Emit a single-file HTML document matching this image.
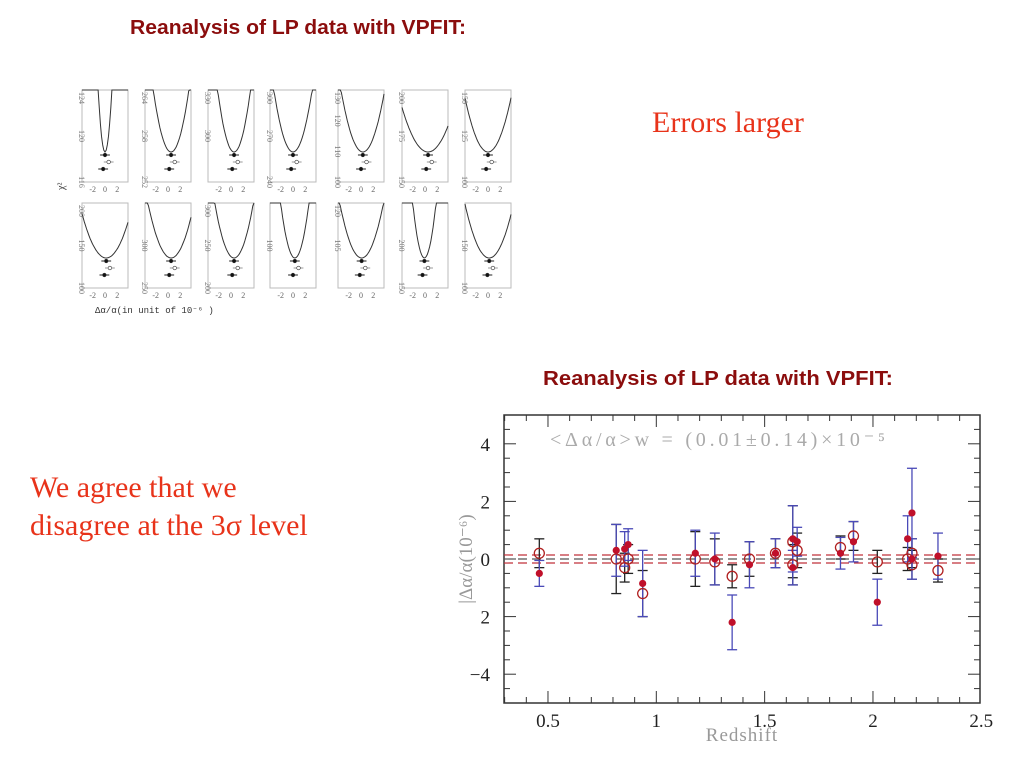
<!DOCTYPE html>
<html><head><meta charset="utf-8"><style>
html,body{margin:0;padding:0;background:#fff;width:1024px;height:768px;overflow:hidden}
svg{display:block}
</style></head><body>
<svg id="page" width="1024" height="768" viewBox="0 0 1024 768" xmlns="http://www.w3.org/2000/svg">
<text x="130" y="34" font-family="Liberation Sans, sans-serif" font-weight="bold" font-size="20" fill="#8b0d0d" textLength="336" lengthAdjust="spacingAndGlyphs">Reanalysis of LP data with VPFIT:</text>
<text x="543" y="385" font-family="Liberation Sans, sans-serif" font-weight="bold" font-size="20" fill="#8b0d0d" textLength="350" lengthAdjust="spacingAndGlyphs">Reanalysis of LP data with VPFIT:</text>
<text x="652" y="132" font-family="Liberation Serif, serif" font-size="30" fill="#e8331a">Errors larger</text>
<text x="30" y="497" font-family="Liberation Serif, serif" font-size="30" fill="#e8331a">We agree that we</text>
<text x="30" y="535" font-family="Liberation Serif, serif" font-size="30" fill="#e8331a">disagree at the 3σ level</text>
<g id="panels"></g>
<g id="chart"></g>
</svg>
<script>
// ---- main chart data ----
const filledZ   = [0.46,0.815,0.854,0.87,0.937,1.18,1.27,1.35,1.43,1.55,1.63,1.63,1.65,1.85,1.91,2.02,2.16,2.18,2.18,2.30];
const filledVal = [-0.5,0.3,0.35,0.5,-0.85,0.2,0.0,-2.2,-0.2,0.2,-0.3,0.7,0.6,0.2,0.6,-1.5,0.7,1.6,0.0,0.1];
const filledErr = [0.45,0.9,0.6,0.55,1.15,0.8,0.9,0.95,0.8,0.5,0.6,1.15,0.5,0.55,0.7,0.8,0.8,1.55,0.7,0.8];
const openZ   = [0.46,0.815,0.854,0.87,0.937,1.18,1.27,1.35,1.43,1.55,1.63,1.63,1.65,1.85,1.91,2.02,2.16,2.18,2.18,2.30];
const openVal = [0.2,0.0,-0.3,0.0,-1.2,0.0,-0.1,-0.6,0.0,0.2,0.6,-0.2,0.3,0.4,0.8,-0.1,0.0,0.2,-0.2,-0.4];
const openErr = [0.5,1.2,0.5,0.5,0.8,0.95,0.8,0.4,0.6,0.5,1.25,0.7,0.6,0.4,0.5,0.4,0.4,0.5,0.5,0.4];
const xTicks = [0.5,1,1.5,2,2.5];
const xTickLabels = ["0.5","1","1.5","2","2.5"];
const yTicks = [-4,-2,0,2,4];
const yTickLabels = ["\u22124","2","0","2","4"];
const meanLines = [0.14,0,-0.14];
// ---- chi2 panel data (curve minimum position, curvature) ----
const panelMin = [0,0.5,0.5,0,0.3,0.5,0,0.2,0.5,0.5,0.3,0.1,-0.1,0.2];
const panelWidth = [1.0,2.6,2.4,2.8,3.2,4.5,3.6,4.2,3.6,3.0,2.2,3.4,1.8,3.8];
const panelYLabels = [["116","120","124"],["252","258","264"],["","300","330"],["240","270","300"],["100","110","120","130"],["150","175","200"],["100","125","150"],["100","150","200"],["250","300",""],["200","250","300"],["","100",""],["","105","120"],["150","200",""],["100","150",""]];

const NS='http://www.w3.org/2000/svg';
function mk(tag,attrs,parent){const e=document.createElementNS(NS,tag);for(const k in attrs)e.setAttribute(k,attrs[k]);parent.appendChild(e);return e;}

const L=504,R=980,T=415,B=703,xmin=0.297,xmax=2.494,ymin=-5,ymax=5;
const sx=v=>L+(v-xmin)/(xmax-xmin)*(R-L);
const sy=v=>B-(v-ymin)/(ymax-ymin)*(B-T);
const chart=document.getElementById('chart');
const frame=mk('rect',{x:L,y:T,width:R-L,height:B-T,fill:'none',stroke:'#333','stroke-width':1.5},chart);


for(let v=0.3;v<=2.5;v+=0.1){const x=sx(v);const maj=xTicks.some(t=>Math.abs(t-v)<1e-6);const len=maj?12:6;
 mk('line',{x1:x,y1:B,x2:x,y2:B-len,stroke:'#333'},chart);mk('line',{x1:x,y1:T,x2:x,y2:T+len,stroke:'#333'},chart);}
for(let v=-5;v<=5;v+=0.5){const y=sy(v);const maj=Math.abs(v%2)<1e-6;const len=maj?12:6;
 mk('line',{x1:L,y1:y,x2:L+len,y2:y,stroke:'#333'},chart);mk('line',{x1:R,y1:y,x2:R-len,y2:y,stroke:'#333'},chart);}
xTicks.forEach((t,i)=>{const e=mk('text',{x:sx(t),y:B+24,'text-anchor':'middle','font-family':'Liberation Serif, serif','font-size':19,fill:'#222'},chart);e.textContent=xTickLabels[i];
 
 });
yTicks.forEach((t,i)=>{const e=mk('text',{x:490,y:sy(t)+7,'text-anchor':'end','font-family':'Liberation Serif, serif','font-size':19,fill:'#222'},chart);e.textContent=yTickLabels[i];
 
 });
const xt=mk('text',{x:742,y:741,'text-anchor':'middle','font-family':'Liberation Serif, serif','font-size':19,fill:'#999','letter-spacing':1},chart);xt.textContent='Redshift';


const yt=mk('text',{x:0,y:0,transform:'translate(472,559) rotate(-90)','text-anchor':'middle','font-family':'Liberation Serif, serif','font-size':19,fill:'#999'},chart);yt.textContent='|Δα/α(10⁻⁶)';


const ann=mk('text',{x:550,y:446,'font-family':'Liberation Serif, serif','font-size':20,fill:'#aaa',textLength:335,lengthAdjust:'spacing'},chart);ann.textContent='<Δα/α>w  =  (0.01±0.14)×10⁻⁵';


meanLines.forEach((m,i)=>{const l=mk('line',{x1:L,x2:R,y1:sy(m),y2:sy(m),stroke:i===1?'#555':'#c0303a','stroke-width':1.2,'stroke-dasharray':'9,5'},chart);
 
 });
function errbar(z,v,e,col,name){const g=mk('g',{},chart);
 
 const x=sx(z);mk('line',{x1:x,x2:x,y1:sy(v+e),y2:sy(v-e),stroke:col,'stroke-width':1.3},g);
 mk('line',{x1:x-5,x2:x+5,y1:sy(v+e),y2:sy(v+e),stroke:col,'stroke-width':1.3},g);
 mk('line',{x1:x-5,x2:x+5,y1:sy(v-e),y2:sy(v-e),stroke:col,'stroke-width':1.3},g);}
openZ.forEach((z,i)=>errbar(z,openVal[i],openErr[i],'#222','open-error-bar'));
filledZ.forEach((z,i)=>errbar(z,filledVal[i],filledErr[i],'#4a4ab8','filled-error-bar'));
openZ.forEach((z,i)=>{const c=mk('circle',{cx:sx(z),cy:sy(openVal[i]),r:5,fill:'none',stroke:'#b02020','stroke-width':1.3},chart);
 
 });
filledZ.forEach((z,i)=>{const c=mk('circle',{cx:sx(z),cy:sy(filledVal[i]),r:3.6,fill:'#c0102a'},chart);
 
 });

const panels=document.getElementById('panels');
const colsX=[82,145,208,270,338,402,465];const pw=46;
const rows=[[90,182],[203,288]];
for(let p=0;p<14;p++){const r=Math.floor(p/7),c=p%7;const x0=colsX[c],y0=rows[r][0],y1=rows[r][1];
 const g=mk('g',{},panels);
 
 mk('rect',{x:x0,y:y0,width:pw,height:y1-y0,fill:'none',stroke:'#bbb','stroke-width':1},g);
 const mid=x0+pw/2;const px=v=>mid+v*pw/7.5;
 let d='';for(let k=0;k<=40;k++){const v=-3.75+7.5*k/40;const yy=y1-30-Math.pow((v-panelMin[p])/panelWidth[p],2)*50;
  const cy=Math.max(y0,yy);d+=(k?'L':'M')+px(v).toFixed(1)+','+cy.toFixed(1);}
 mk('path',{d:d,fill:'none',stroke:'#333','stroke-width':1},g);
 const dots=[[panelMin[p],y1-27],[panelMin[p]+0.6,y1-20],[panelMin[p]-0.3,y1-13]];
 dots.forEach((dd,j)=>{mk('line',{x1:px(dd[0]-0.8),x2:px(dd[0]+0.8),y1:dd[1],y2:dd[1],stroke:j==1?'#999':'#222'},g);
  mk('circle',{cx:px(dd[0]),cy:dd[1],r:1.8,fill:j==1?'#fff':'#111',stroke:'#333','stroke-width':0.6},g);});
 ['-2','0','2'].forEach((t,j)=>{const e=mk('text',{x:px(-2+2*j),y:y1+10,'text-anchor':'middle','font-family':'Liberation Serif, serif','font-size':8,fill:'#666'},g);e.textContent=t;});
 panelYLabels[p].forEach((t,j,a)=>{if(!t)return;const yy=y1-(y1-y0)*j/(a.length-1);
  const e=mk('text',{x:0,y:0,transform:`translate(${x0-3},${Math.min(y1,Math.max(y0+8,yy))}) rotate(90)`,'text-anchor':'middle','font-family':'Liberation Serif, serif','font-size':8,fill:'#777'},g);e.textContent=t;});
}
const pl=mk('text',{x:95,y:313,'font-family':'Liberation Mono, monospace','font-size':9,fill:'#333'},panels);pl.textContent='Δα/α(in unit of 10⁻⁶ )';


const cl=mk('text',{x:0,y:0,transform:'translate(64,190) rotate(-90)','font-family':'Liberation Serif, serif','font-size':10,fill:'#333'},panels);cl.textContent='χ²';


</script>
</body></html>
